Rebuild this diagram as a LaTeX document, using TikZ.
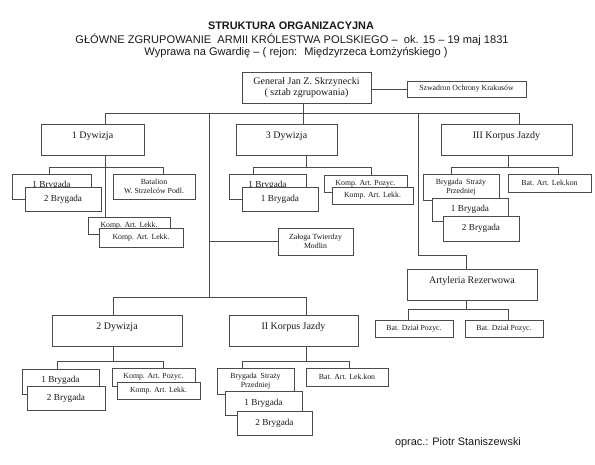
\documentclass[tikz,border=0pt]{standalone}
\usepackage{fontspec}
\setmainfont{Liberation Serif}
\setsansfont{Liberation Sans}
\usepackage{xcolor}
\usetikzlibrary{positioning,calc}
\definecolor{linec}{RGB}{75,75,75}
\definecolor{txtc}{RGB}{25,25,25}

\begin{document}
\begin{tikzpicture}[
    x=1pt, y=-1pt,
    line/.style={draw=linec, line width=0.9pt},
    box/.style={rectangle, draw=linec, line width=0.9pt, fill=white, text=txtc, inner sep=1pt, align=center, font=\fontsize{7.8}{9}\selectfont},
    big/.style={box, minimum width=130pt, minimum height=31pt, inner ysep=0pt, text height=14pt, text depth=17pt, font=\fontsize{10}{12}\selectfont},
    bryg/.style={box, minimum width=77pt, minimum height=24pt, font=\fontsize{9.2}{10}\selectfont},
    small/.style={box, minimum width=83pt, minimum height=17pt},
    lift/.style={text depth=5pt},
    title/.style={text=txtc, inner sep=0pt, font=\sffamily\fontsize{11.1}{13}\selectfont},
]
    \useasboundingbox (0,0) rectangle (595,464);

    % naglowek
    \node[title, font=\sffamily\bfseries\fontsize{10.9}{13}\selectfont] (t1) at (291,26) {STRUKTURA ORGANIZACYJNA};
    \node[title] (t2) at (292,40) {GŁÓWNE ZGRUPOWANIE \ ARMII KRÓLESTWA POLSKIEGO – \ ok. 15 – 19 maj 1831};
    \node[title] (t3) at (296,53) {Wyprawa na Gwardię – ( rejon: \ Międzyrzeca Łomżyńskiego )};

    % sztab
    \node[box, minimum width=129pt, minimum height=31pt, font=\fontsize{10}{11}\selectfont] (gen) at (306.5,87.5) {Generał Jan Z. Skrzynecki\\( sztab zgrupowania)};
    \node[box, minimum width=119pt, minimum height=16pt] (szw) at (466.5,89) {Szwadron Ochrony Krakusów};

    % pierwszy rzut
    \node[big, minimum width=103pt] (dyw1) at (92.5,139.5) {1 Dywizja};
    \node[big, minimum width=101pt] (dyw3) at (286.5,139.5) {3 Dywizja};
    \node[big, minimum width=131pt] (kor3) at (506.5,139.5) {III Korpus Jazdy};

    \node[bryg, lift, minimum width=79pt, minimum height=25pt] (b11) at (51.5,186.5) {1 Brygada};
    \node[bryg, minimum width=76pt] (b12) at (63,199) {2 Brygada};
    \node[small, minimum width=82pt, minimum height=25pt] (bat1) at (154,186.5) {Batalion\\W. Strzelców Podl.};
    \node[small, minimum width=82pt] (kl1a) at (129,225.5) {Komp. Art. Lekk.};
    \node[small, minimum width=84pt, minimum height=19pt] (kl1b) at (141,237.5) {Komp. Art. Lekk.};

    \node[bryg, lift, minimum height=25pt] (b31) at (267.5,186.5) {1 Brygada};
    \node[bryg, minimum width=76pt] (b32) at (280,199) {1 Brygada};
    \node[small] (kp3) at (365.5,183.5) {Komp. Art. Pozyc.};
    \node[small, minimum width=81pt] (kl3) at (372.5,195.5) {Komp. Art. Lekk.};
    \node[small, minimum width=75pt, minimum height=27pt] (zal) at (315.5,241.5) {Załoga Twierdzy\\Modlin};

    \node[small, minimum width=76pt, minimum height=26pt, font=\fontsize{7.8}{9}\selectfont] (bs3) at (461,187) {Brygada \ Straży\\Przedniej};
    \node[small, minimum height=18pt] (bak3) at (549.5,183) {Bat. Art. Lek.kon};
    \node[bryg, minimum width=76pt, minimum height=23pt] (b3k1) at (470,209.5) {1 Brygada};
    \node[bryg, minimum width=76pt, minimum height=25pt] (b3k2) at (481,228.5) {2 Brygada};

    \node[big, minimum height=31pt] (art) at (472,284.5) {Artyleria Rezerwowa};
    \node[small, minimum width=78pt] (bd1) at (414,328.5) {Bat. Dział Pozyc.};
    \node[small, minimum width=78pt] (bd2) at (504,328.5) {Bat. Dział Pozyc.};

    % drugi rzut
    \node[big] (dyw2) at (117,330.5) {2 Dywizja};
    \node[big, minimum width=129pt] (kor2) at (293.5,330.5) {II Korpus Jazdy};

    \node[bryg, lift, minimum height=25pt] (b21) at (60.5,381.5) {1 Brygada};
    \node[bryg, minimum width=78pt] (b22) at (66,398) {2 Brygada};
    \node[small, minimum height=18pt] (kp2) at (153.5,377) {Komp. Art. Pozyc.};
    \node[small] (kl2) at (158.5,390.5) {Komp. Art. Lekk.};

    \node[small, minimum width=77pt, minimum height=26pt, font=\fontsize{7.8}{9}\selectfont] (bs2) at (255.5,381) {Brygada \ Straży\\Przedniej};
    \node[small, minimum width=82pt, minimum height=18pt] (bak2) at (347,377) {Bat. Art. Lek.kon};
    \node[bryg] (b2k1) at (263.5,403) {1 Brygada};
    \node[bryg, minimum width=75pt] (b2k2) at (274.5,423) {2 Brygada};

    \node[title, font=\sffamily\fontsize{10.9}{12}\selectfont] (autor) at (458,443) {oprac.: Piotr Staniszewski};

    % punkty szyn
    \coordinate (ja) at (105,113);
    \coordinate (jb) at (209,113);
    \coordinate (jc) at (303,113);
    \coordinate (jd) at (418,113);
    \coordinate (je) at (519,113);
    \coordinate (jf) at (209,297);
    \coordinate (jg) at (113,297);
    \coordinate (jh) at (306,297);
    \coordinate (ji) at (466,255);
    \coordinate (d1l) at (49,167);
    \coordinate (d1r) at (163,167);
    \coordinate (d3l) at (253,167);
    \coordinate (d3m) at (306,167);
    \coordinate (d3r) at (371,167);
    \coordinate (k3l) at (451,167);
    \coordinate (k3m) at (508,167);
    \coordinate (k3r) at (558,167);
    \coordinate (arl) at (408,309);
    \coordinate (arm) at (466,309);
    \coordinate (arr) at (508,309);
    \coordinate (d2l) at (57,361);
    \coordinate (d2r) at (163,361);
    \coordinate (k2l) at (242,361);
    \coordinate (k2m) at (306,361);
    \coordinate (k2r) at (349,361);

    % polaczenia
    \draw[line] (gen.east |- szw.west) -- (szw.west);
    \draw[line] (dyw1.north -| ja) -- (ja) -- (je) -- (kor3.north -| je);
    \draw[line] (gen.south -| jc) -- (dyw3.north -| jc);
    \draw[line] (jb) -- (jf);
    \draw[line] (jb |- zal.west) -- (zal.west);
    \draw[line] (jd) |- (ji) -- (art.north -| ji);
    \draw[line] (dyw2.north -| jg) -- (jg) -- (jh) -- (kor2.north -| jh);

    \draw[line] (dyw1.south -| ja) -- (kl1a.north -| ja);
    \draw[line] (b11.north -| d1l) -- (d1l) -- (d1r) -- (bat1.north -| d1r);
    \draw[line] (dyw3.south -| d3m) -- (d3m);
    \draw[line] (b31.north -| d3l) -- (d3l) -- (d3r) -- (kp3.north -| d3r);
    \draw[line] (kor3.south -| k3m) -- (k3m);
    \draw[line] (bs3.north -| k3l) -- (k3l) -- (k3r) -- (bak3.north -| k3r);
    \draw[line] (art.south -| arm) -- (arm);
    \draw[line] (bd1.north -| arl) -- (arl) -- (arr) -- (bd2.north -| arr);
    \draw[line] (dyw2.south -| jg) -- (jg |- d2l);
    \draw[line] (b21.north -| d2l) -- (d2l) -- (d2r) -- (kp2.north -| d2r);
    \draw[line] (kor2.south -| k2m) -- (k2m);
    \draw[line] (bs2.north -| k2l) -- (k2l) -- (k2r) -- (bak2.north -| k2r);
\end{tikzpicture}
\end{document}
